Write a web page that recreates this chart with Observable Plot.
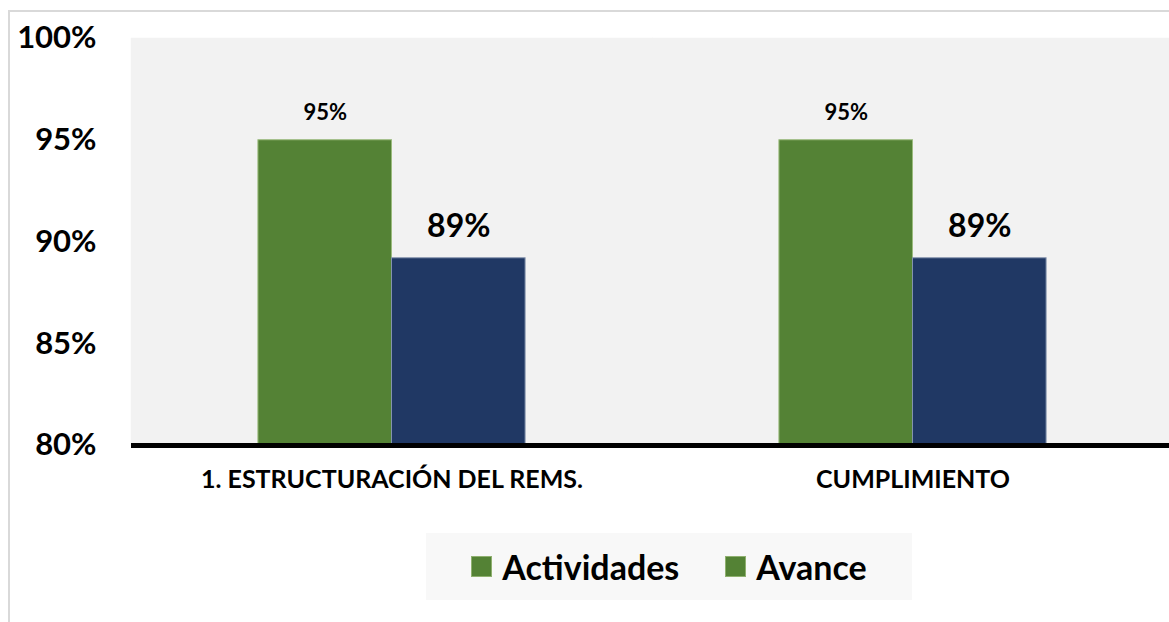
<!DOCTYPE html>
<html>
<head>
<meta charset="utf-8">
<script src="https://cdn.jsdelivr.net/npm/d3@7"></script>
<script src="https://cdn.jsdelivr.net/npm/@observablehq/plot@0.6"></script>
<style>
  html, body { margin: 0; padding: 0; background: #ffffff; width: 1169px; height: 622px; overflow: hidden; }
  #frame { position: absolute; left: 8px; top: 10px; width: 1200px; height: 700px; border-left: 2px solid #d9d9d9; border-top: 2px solid #d9d9d9; box-sizing: border-box; }
  #chart { position: absolute; left: 0; top: 0; }
  #legend { position: absolute; left: 426px; top: 533px; width: 486px; height: 67px; background: #f8f8f8;
            display: flex; align-items: center; justify-content: center; gap: 0;
            font-family: Lato, "Open Sans", sans-serif; font-weight: bold; font-size: 34px; color: #000; }
  .item { display: flex; align-items: center; }
  .sw { width: 21px; height: 21px; margin-right: 10px; background: #548235; border: 1px solid #8fb06f; box-sizing: border-box; }
</style>
</head>
<body>
<div id="frame"></div>
<div id="chart"></div>
<div id="legend"></div>
<script>
const categories = ["1. ESTRUCTURACIÓN DEL REMS.", "CUMPLIMIENTO"];
const series = ["Actividades", "Avance"];
const actividades = [0.95, 0.95];
const avance = [0.892, 0.892];
const yTicks = [0.80, 0.85, 0.90, 0.95, 1.00];
const colors = ["#548235", "#203864"];
const legendColors = ["#548235", "#548235"];

const rows = [];
categories.forEach((c, i) => {
  rows.push({category: c, series: series[0], value: actividades[i]});
  rows.push({category: c, series: series[1], value: avance[i]});
});
const pct = d3.format(".0%");

const plot = Plot.plot({
  width: 1169,
  height: 500,
  marginLeft: 131,
  marginRight: -4,
  marginTop: 38,
  marginBottom: 55,
  style: {fontFamily: "Lato, 'Open Sans', sans-serif", fontWeight: "bold", color: "#000", background: "transparent", overflow: "visible"},
  fx: {domain: categories, padding: 0, label: null},
  x: {domain: series, paddingInner: 0, paddingOuter: 0.95, round: false, axis: null},
  y: {domain: [0.8, 1.0], axis: null},
  color: {domain: series, range: colors},
  marks: [
    Plot.frame({fill: "#f2f2f2", stroke: "#f2f2f2", strokeWidth: 1.5}),
    Plot.axisY({ticks: yTicks, tickFormat: pct, tickSize: 0, tickPadding: 35, fontSize: 31, label: null, fill: "#000"}),
    Plot.axisFx({anchor: "bottom", tickSize: 0, tickPadding: 25, fontSize: 25, label: null}),
    Plot.barY(rows, {fx: "category", x: "series", y1: () => 0.8, y2: "value", fill: "series", stroke: d => d.series === series[0] ? "#9bbb7e" : "#8393ad", strokeWidth: 1}),
    Plot.text(rows.filter(d => d.series === series[0]), {fx: "category", x: "series", y: "value", text: d => pct(d.value), dy: -27, fontSize: 22, fontWeight: "bold", fill: "#000"}),
    Plot.text(rows.filter(d => d.series === series[1]), {fx: "category", x: "series", y: "value", text: d => pct(d.value), dy: -32, fontSize: 32, fontWeight: "bold", fill: "#000"}),
    Plot.ruleY([0.8], {stroke: "#000", strokeWidth: 5})
  ]
});
document.getElementById("chart").appendChild(plot);

const legend = document.getElementById("legend");
series.forEach((s, i) => {
  const item = document.createElement("div");
  item.className = "item";
  if (i > 0) item.style.marginLeft = "46px";
  const sw = document.createElement("div");
  sw.className = "sw";
  sw.style.background = legendColors[i];
  const t = document.createElement("span");
  t.textContent = s;
  item.appendChild(sw);
  item.appendChild(t);
  legend.appendChild(item);
});
</script>
</body>
</html>
